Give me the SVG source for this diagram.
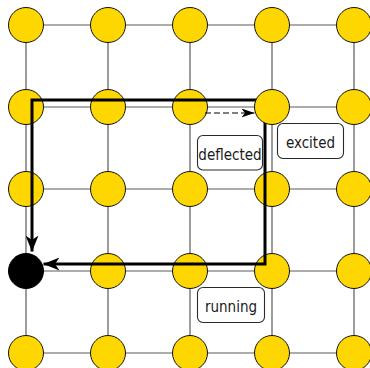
<svg xmlns="http://www.w3.org/2000/svg" width="370" height="368" viewBox="0 0 370 368">
  <style>
    .grid { stroke: #5a5a5a; stroke-width: 1.2; fill: none; }
    .site { fill: #FFD700; stroke: #111; stroke-width: 1; }
    .hole { fill: #000; stroke: #000; stroke-width: 1; }
    .path { stroke: #000; stroke-width: 3; fill: none; stroke-linejoin: miter; }
    .hop { stroke: #000; stroke-width: 1; fill: none; stroke-dasharray: 6 3; }
    .tag rect { fill: #fff; stroke: #2a2a2a; stroke-width: 1.1; }
    .tag text { font-family: "DejaVu Sans Condensed", "DejaVu Sans", sans-serif; font-stretch: condensed; font-size: 15px; fill: #1a1a1a; text-anchor: middle; }
  </style>
  <defs>
    <marker id="bigHead" markerUnits="userSpaceOnUse" markerWidth="16" markerHeight="13" viewBox="0 0 16 13" refX="16" refY="6.5" orient="auto-start-reverse">
      <path d="M0,0 L16,6.5 L0,13 L4.5,6.5 Z" fill="#000"/>
    </marker>
    <marker id="smallHead" markerUnits="userSpaceOnUse" markerWidth="13" markerHeight="9" viewBox="0 0 13 9" refX="13" refY="4.5" orient="auto">
      <path d="M0,0 L13,4.5 L0,9 L3.5,4.5 Z" fill="#000"/>
    </marker>
  </defs>

  <!-- lattice bonds -->
  <g id="connectors">
    <g id="bonds">
      <line class="grid" x1="26" y1="25" x2="354" y2="25"/>
      <line class="grid" x1="26" y1="107" x2="354" y2="107"/>
      <line class="grid" x1="26" y1="189" x2="354" y2="189"/>
      <line class="grid" x1="26" y1="271" x2="354" y2="271"/>
      <line class="grid" x1="26" y1="353" x2="354" y2="353"/>
      <line class="grid" x1="26" y1="25" x2="26" y2="353"/>
      <line class="grid" x1="108" y1="25" x2="108" y2="353"/>
      <line class="grid" x1="190" y1="25" x2="190" y2="353"/>
      <line class="grid" x1="272" y1="25" x2="272" y2="353"/>
      <line class="grid" x1="354" y1="25" x2="354" y2="353"/>
    </g>
  </g>

  <!-- lattice sites -->
  <g id="n00"><circle class="site" cx="26" cy="25" r="17.5"/></g>
  <g id="n10"><circle class="site" cx="108" cy="25" r="17.5"/></g>
  <g id="n20"><circle class="site" cx="190" cy="25" r="17.5"/></g>
  <g id="n30"><circle class="site" cx="272" cy="25" r="17.5"/></g>
  <g id="n40"><circle class="site" cx="354" cy="25" r="17.5"/></g>
  <g id="n01"><circle class="site" cx="26" cy="107" r="17.5"/></g>
  <g id="n11"><circle class="site" cx="108" cy="107" r="17.5"/></g>
  <g id="n21"><circle class="site" cx="190" cy="107" r="17.5"/></g>
  <g id="n41"><circle class="site" cx="354" cy="107" r="17.5"/></g>
  <g id="n02"><circle class="site" cx="26" cy="189" r="17.5"/></g>
  <g id="n12"><circle class="site" cx="108" cy="189" r="17.5"/></g>
  <g id="n22"><circle class="site" cx="190" cy="189" r="17.5"/></g>
  <g id="n32"><circle class="site" cx="272" cy="189" r="17.5"/></g>
  <g id="n42"><circle class="site" cx="354" cy="189" r="17.5"/></g>
  <g id="n03"><circle class="hole" cx="26" cy="271" r="17.5"/></g>
  <g id="n13"><circle class="site" cx="108" cy="271" r="17.5"/></g>
  <g id="n23"><circle class="site" cx="190" cy="271" r="17.5"/></g>
  <g id="n33"><circle class="site" cx="272" cy="271" r="17.5"/></g>
  <g id="n43"><circle class="site" cx="354" cy="271" r="17.5"/></g>
  <g id="n04"><circle class="site" cx="26" cy="353" r="17.5"/></g>
  <g id="n14"><circle class="site" cx="108" cy="353" r="17.5"/></g>
  <g id="n24"><circle class="site" cx="190" cy="353" r="17.5"/></g>
  <g id="n34"><circle class="site" cx="272" cy="353" r="17.5"/></g>
  <g id="n44"><circle class="site" cx="354" cy="353" r="17.5"/></g>

  <!-- state labels -->
  <g id="deflected" class="tag">
    <rect x="197.5" y="135.5" width="65" height="34.5" rx="5.5"/>
    <text x="230" y="159.5">deflected</text>
  </g>
  <g id="excited" class="tag">
    <rect x="277.5" y="123.5" width="66" height="35" rx="5.5"/>
    <text x="310.5" y="148">excited</text>
  </g>
  <g id="running" class="tag">
    <rect x="197.5" y="287.5" width="67" height="35" rx="5.5"/>
    <text x="231" y="312">running</text>
  </g>

  <!-- trajectory loops -->
  <g id="paths">
    <path class="path" d="M43.5,264 L265,264 L265,100 L32,100 L32,251.5" marker-start="url(#bigHead)" marker-end="url(#bigHead)"/>
    <path class="hop" d="M205,113 L254.5,113" marker-end="url(#smallHead)"/>
  </g>

  <!-- target site sits above the loop corner -->
  <g id="n31"><circle class="site" cx="272" cy="107" r="17.5"/></g>
</svg>
